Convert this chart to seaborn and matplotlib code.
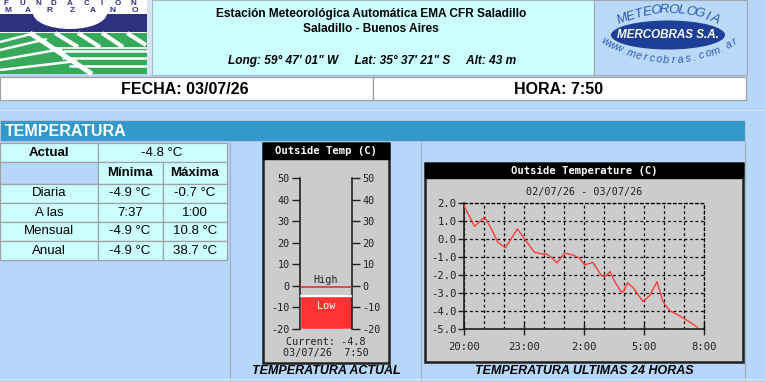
import math
import matplotlib
matplotlib.use("Agg")
import matplotlib.pyplot as plt
import seaborn as sns
import pandas as pd
from matplotlib.patches import Rectangle, Ellipse
from matplotlib.ticker import FixedLocator, FixedFormatter

# ---------------- data ----------------
hours_since_20 = [0.0, 0.53, 1.03, 1.37, 1.70, 2.07, 2.67, 3.03, 3.53, 3.90, 4.13, 4.37, 4.65,
                  5.03, 5.45, 5.78, 6.03, 6.45, 6.87, 7.08, 7.30, 7.53, 7.87, 7.98, 8.17, 8.45,
                  8.95, 9.28, 9.65, 9.95, 10.28, 10.70, 11.03, 11.37, 11.67]
temps_c = [1.85, 0.70, 1.22, 0.56, -0.19, -0.48, 0.56, 0.00, -0.74, -0.83, -0.83, -1.02, -1.33,
           -0.78, -0.89, -1.07, -1.44, -1.30, -2.04, -2.07, -1.81, -2.35, -2.96, -2.92, -2.44,
           -2.69, -3.48, -3.15, -2.37, -3.48, -3.98, -4.22, -4.44, -4.67, -4.91]
x_tick_pos = [0, 3, 6, 9, 12]
x_tick_labels = ["20:00", "23:00", "2:00", "5:00", "8:00"]
y_tick_pos = [2, 1, 0, -1, -2, -3, -4, -5]
y_tick_labels = ["2.0", "1.0", "0.0", "-1.0", "-2.0", "-3.0", "-4.0", "-5.0"]

thermo_ticks = [50, 40, 30, 20, 10, 0, -10, -20]
thermo_labels = ["50", "40", "30", "20", "10", "0", "-10", "-20"]
current_temp = -4.8
high_temp = -0.7
thermo_min, thermo_max = -20, 50

row_names = ["Diaria", "A las", "Mensual", "Anual"]
min_values = ["-4.9 °C", "7:37", "-4.9 °C", "-4.9 °C"]
max_values = ["-0.7 °C", "1:00", "10.8 °C", "38.7 °C"]
actual_value = "-4.8 °C"

# ---------------- figure / helpers ----------------
W, H = 765, 382
plt.rcParams["axes.unicode_minus"] = False
sns.set_style("white")
PAGE = "#b6d6fa"
CYAN = "#ccffff"
SANS = "Liberation Sans"
MONO = "DejaVu Sans Mono"

fig = plt.figure(figsize=(W / 100, H / 100), dpi=100, facecolor=PAGE)
bg = fig.add_axes([0, 0, 1, 1])
bg.set_xlim(0, W)
bg.set_ylim(H, 0)
bg.axis("off")
bg.set_facecolor(PAGE)


def ax_at(x0, y0, x1, y1):
    return fig.add_axes([x0 / W, 1 - y1 / H, (x1 - x0) / W, (y1 - y0) / H])


def rect(x0, y0, x1, y1, fc, ec="none", lw=1.0, z=1):
    bg.add_patch(Rectangle((x0, y0), x1 - x0, y1 - y0, facecolor=fc, edgecolor=ec, lw=lw, zorder=z))


def txt(x, y, s, size=9, weight="normal", style="normal", color="black", ha="center",
        family=SANS, rot=0, z=5):
    bg.text(x, y, s, fontsize=size, fontweight=weight, fontstyle=style, color=color, ha=ha,
            va="center", family=family, rotation=rot, rotation_mode="anchor", zorder=z)


def line(pts, color="white", lw=1.5, z=4):
    bg.plot([p[0] for p in pts], [p[1] for p in pts], color=color, lw=lw, zorder=z,
            solid_capstyle="butt")


# ---------------- header ----------------
# left logo (Fundacion Marzano)
rect(0, 0, 147, 74, "white")
NAVY = "#2d3180"
GREEN = "#36a95a"
rect(0, 14, 147, 32, NAVY, z=2)
bg.add_patch(Ellipse((70, 13), 74, 32, facecolor="white", edgecolor="none", zorder=3))
rect(0, 33, 147, 74, GREEN, z=2)
for s in [((55, 33), (78, 47)), ((78, 33), (100, 47)), ((102, 33), (123, 47)), ((127, 33), (146, 45))]:
    line(s, lw=3.0)
line(((50, 47.5), (147, 47.5)), lw=1.2)
for yy in [51, 58, 66]:
    line(((52 + (yy - 47) * 0.9, yy), (147, yy)), lw=1.8)
line(((30, 33), (92, 74)), lw=3.5)
for s in [((0, 42), (35, 33)), ((0, 50), (47, 39)), ((0, 60), (62, 49)), ((0, 70), (77, 61))]:
    line(s, lw=1.8)
for ch, xx in zip("FUNDACION", [6, 22, 38, 53, 70, 87, 102, 118, 133]):
    txt(xx, 3.2, ch, size=5.8, weight="bold", color=NAVY, z=6)
for ch, xx in zip("MARZANO", [8, 28, 50, 72, 93, 113, 135]):
    txt(xx, 10.5, ch, size=6.0, weight="bold", color=NAVY, z=6)
rect(147, 0, 152, 75, "#d6e6f6")

# centre header
rect(152, 0, 594, 75, CYAN, ec="#a8b4c0", lw=0.8)
txt(371, 14, "Estación Meteorológica Automática EMA CFR Saladillo", size=8.6, weight="bold")
txt(371, 29, "Saladillo - Buenos Aires", size=8.6, weight="bold")
txt(372, 61, "Long: 59° 47' 01\" W     Lat: 35° 37' 21\" S     Alt: 43 m",
    size=8.6, weight="bold", style="italic")

# right logo (Mercobras)
rect(594, 0, 747, 75, "#bad8f8", ec="#a0a8b4", lw=0.8)
BLUE = "#2c5db4"
word = "METEOROLOGIA"
cx, cy, R = 669, 128, 118
n = len(word)
for i, ch in enumerate(word):
    th = math.radians(-23 + 46 * i / (n - 1))
    txt(cx + R * math.sin(th), cy - R * math.cos(th), ch, size=9.5, style="italic",
        color=BLUE, rot=-math.degrees(th), z=6)
bg.add_patch(Ellipse((668, 35), 114, 29, facecolor="#1d3f97", edgecolor="none", zorder=4))
txt(668, 35, "MERCOBRAS S.A.", size=8.4, weight="bold", style="italic", color="white", z=6)
word = "www.mercobras.com.ar"
cx, cy, R = 670, -62, 122
n = len(word)
for i, ch in enumerate(word):
    th = math.radians(-32 + 64 * i / (n - 1))
    txt(cx + R * math.sin(th), cy + R * math.cos(th), ch, size=7.8, style="italic",
        color=BLUE, rot=math.degrees(th), z=6)

# date / time row
rect(0, 77, 373, 100, "white", ec="#a0a0a0", lw=0.9)
rect(373, 77, 746, 100, "white", ec="#a0a0a0", lw=0.9)
txt(185, 89, "FECHA: 03/07/26", size=11.5, weight="bold")
txt(559, 89, "HORA: 7:50", size=11.5, weight="bold")

bg.plot([0, 765], [110, 110], color="#d4e2f2", lw=1)

# section bar
rect(0, 120, 745, 141, "#3399cc", ec="#b0c4d8", lw=0.8)
txt(5, 131, "TEMPERATURA", size=11.5, weight="bold", color="white", ha="left")

# content dividers
for xx in [230, 421, 745]:
    bg.plot([xx, xx], [142, 382], color="#a4b2c4", lw=0.9, zorder=2)
bg.plot([0, 765], [379, 379], color="#d4e2f2", lw=1, zorder=2)

# ---------------- table ----------------
cols = [0, 98, 163, 227]
rows = [143, 162, 184, 203, 222, 241, 260]
GRID = "#a0a0a0"
rect(0, rows[0], 98, rows[1], CYAN, ec=GRID, lw=0.9)
rect(98, rows[0], 227, rows[1], CYAN, ec=GRID, lw=0.9)
txt(49, (rows[0] + rows[1]) / 2, "Actual", size=9.5, weight="bold")
txt(162, (rows[0] + rows[1]) / 2, actual_value, size=9.5)
rect(0, rows[1], 98, rows[2], PAGE, ec=GRID, lw=0.9)
rect(98, rows[1], 163, rows[2], CYAN, ec=GRID, lw=0.9)
rect(163, rows[1], 227, rows[2], CYAN, ec=GRID, lw=0.9)
txt(130, (rows[1] + rows[2]) / 2, "Mínima", size=9.5, weight="bold")
txt(195, (rows[1] + rows[2]) / 2, "Máxima", size=9.5, weight="bold")
for i, (nm, mn, mx) in enumerate(zip(row_names, min_values, max_values)):
    y0, y1 = rows[2 + i], rows[3 + i]
    for c in range(3):
        rect(cols[c], y0, cols[c + 1], y1, CYAN, ec=GRID, lw=0.9)
    yc = (y0 + y1) / 2
    txt(49, yc, nm, size=9.5)
    txt(130, yc, mn, size=9.5)
    txt(195, yc, mx, size=9.5)

# ---------------- thermometer panel ----------------
PANEL = "#cccccc"
rect(263, 143, 389, 363, PANEL, ec="#202020", lw=1.8, z=2)
rect(263, 143, 389, 159, "black", ec="black", lw=1.0, z=3)
txt(326, 151, "Outside Temp (C)", size=7.6, weight="bold", color="white", family=MONO, z=6)
txt(326, 342, "Current: -4.8", size=7.3, color="#202020", family=MONO)
txt(326, 353, "03/07/26  7:50", size=7.3, color="#202020", family=MONO)
txt(326, 371, "TEMPERATURA ACTUAL", size=9, weight="bold", style="italic")

ax_t = ax_at(300, 178, 352, 329)
ax_t.set_facecolor("none")
ax_t.set_xlim(0, 1)
ax_t.set_ylim(thermo_min, thermo_max)
ax_t.bar([0.5], [current_temp - thermo_min], bottom=thermo_min, width=1.0, color="#ff3333", zorder=2)
ax_t.axhline(current_temp, color="white", lw=1.4, zorder=3)
ax_t.axhline(high_temp, color="#ee2222", lw=1.1, zorder=3)
ax_t.text(0.5, high_temp + 1.2, "High", ha="center", va="bottom", fontsize=7.3, family=MONO, color="#202020")
ax_t.text(0.5, current_temp - 2.0, "Low", ha="center", va="top", fontsize=7.3, family=MONO, color="white")
for side in ["top", "bottom"]:
    ax_t.spines[side].set_visible(False)
for side in ["left", "right"]:
    ax_t.spines[side].set_visible(True)
    ax_t.spines[side].set_color("#202020")
    ax_t.spines[side].set_linewidth(1.2)
ax_t.set_xticks([])
ax_t.yaxis.set_major_locator(FixedLocator(thermo_ticks))
ax_t.yaxis.set_major_formatter(FixedFormatter(thermo_labels))
ax_t.tick_params(axis="y", left=True, right=True, labelleft=True, labelright=True,
                 direction="out", length=6, width=1.0, color="#202020", pad=1.5,
                 labelsize=7.3, labelcolor="#202020")
for lab in ax_t.get_yticklabels():
    lab.set_family(MONO)

# ---------------- 24h line chart panel ----------------
rect(425, 163, 743, 362, PANEL, ec="#202020", lw=1.8, z=2)
rect(425, 163, 743, 178, "black", ec="black", lw=1.0, z=3)
txt(584, 171, "Outside Temperature (C)", size=7.6, weight="bold", color="white", family=MONO, z=6)
txt(584, 192, "02/07/26 - 03/07/26", size=7.3, color="#202020", family=MONO)
txt(584, 371, "TEMPERATURA ULTIMAS 24 HORAS", size=9, weight="bold", style="italic")

ax_l = ax_at(464, 203, 704, 329)
ax_l.set_facecolor("none")
df = pd.DataFrame({"h": hours_since_20, "t": temps_c})
sns.lineplot(data=df, x="h", y="t", ax=ax_l, color="#ff3c3c", lw=1.0, zorder=4)
ax_l.set_xlim(0, 12)
ax_l.set_ylim(-5, 2)
ax_l.set_xlabel("")
ax_l.set_ylabel("")
ax_l.xaxis.set_major_locator(FixedLocator(x_tick_pos))
ax_l.xaxis.set_major_formatter(FixedFormatter(x_tick_labels))
ax_l.xaxis.set_minor_locator(FixedLocator(list(range(13))))
ax_l.yaxis.set_major_locator(FixedLocator(y_tick_pos))
ax_l.yaxis.set_major_formatter(FixedFormatter(y_tick_labels))
dash = (0, (2.2, 2.2))
ax_l.grid(True, which="both", axis="x", color="black", ls=dash, lw=0.9)
ax_l.grid(True, which="major", axis="y", color="black", ls=dash, lw=0.9)
ax_l.tick_params(axis="x", which="major", direction="inout", length=8, width=1.0, color="#202020",
                 pad=5, labelsize=7.6, labelcolor="#202020", bottom=True)
ax_l.tick_params(axis="x", which="minor", length=0)
ax_l.tick_params(axis="y", direction="out", length=4, width=1.0, color="#202020", pad=1.5,
                 labelsize=7.6, labelcolor="#202020", left=True)
for lab in ax_l.get_xticklabels() + ax_l.get_yticklabels():
    lab.set_family(MONO)
for side in ["left", "bottom"]:
    ax_l.spines[side].set_visible(True)
    ax_l.spines[side].set_color("#202020")
    ax_l.spines[side].set_linewidth(1.2)
for side in ["top", "right"]:
    ax_l.spines[side].set_visible(True)
    ax_l.spines[side].set_color("black")
    ax_l.spines[side].set_linewidth(0.9)
    ax_l.spines[side].set_linestyle(dash)

fig.savefig("out.png", dpi=100, facecolor=PAGE)
